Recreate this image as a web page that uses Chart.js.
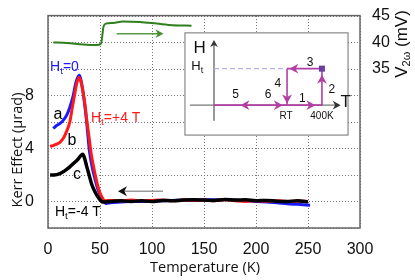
<!DOCTYPE html>
<html>
<head>
<meta charset="utf-8">
<script src="https://cdn.jsdelivr.net/npm/chart.js"></script>
<style>
  html, body { margin: 0; padding: 0; background: #fff; }
  #wrap { width: 415px; height: 280px; }
</style>
</head>
<body>
<div id="wrap"><canvas id="kerrChart"></canvas></div>
<script>
// values
var tempBlue = [5, 8, 11, 14, 18, 21, 24, 27, 30, 33, 37, 40, 43, 45, 48, 51.5, 56,
  60, 70, 80, 90, 100, 110, 120, 130, 140, 150, 160, 170, 180, 190, 200, 210, 220, 230, 240, 252]
var kerrBlue = [5.5, 5.7, 5.85, 6.05, 6.5, 7.1, 7.9, 9.0, 9.5, 8.6, 6.1, 3.7, 2.4, 1.75, 0.9, 0.3, -0.15,
  -0.1, -0.05, 0, 0, 0.02, 0.05, 0.08, 0.1, 0.1, 0.12, 0.12, 0.15, 0.1, 0.05, 0, -0.05, -0.1, -0.18, -0.22, -0.28]

var tempRed = [2, 6, 11.5, 15, 18, 21, 23, 25.5, 27.5, 30, 32, 35.5, 37.5, 39.7, 41.5, 43.5, 46, 48.3, 51, 55,
  60, 70, 80, 90, 100, 110, 120, 130, 140, 150, 160, 170, 180, 190, 200, 210, 220, 230, 240, 250]
var kerrRed = [4.15, 4.25, 4.45, 4.8, 5.3, 6.0, 6.9, 8.0, 8.85, 9.35, 8.9, 7.35, 6.0, 4.7, 3.6, 2.75, 1.8, 1.05, 0.45, 0.05,
  0.08, 0.05, 0.1, 0.05, 0.08, 0.1, 0.05, 0.1, 0.08, 0.1, 0.05, 0.12, 0.05, 0.0, 0.05, 0.02, 0.05, 0.0, 0.02, 0.0]

var tempBlack = [2, 6, 11.5, 16, 21, 25, 29, 31.5, 33.3, 35, 37, 39.5, 42, 45, 48.4, 53,
  60, 70, 80, 90, 100, 110, 120, 130, 140, 150, 160, 170, 180, 190, 200, 210, 220, 230, 240, 250]
var kerrBlack = [2.0, 2.0, 2.1, 2.3, 2.6, 2.9, 3.2, 3.45, 3.55, 3.3, 2.7, 2.0, 1.3, 0.75, 0.3, -0.05,
  0, 0.05, 0, 0.05, 0, 0.08, 0.05, 0.1, 0.12, 0.1, 0.08, 0.15, 0.1, 0.12, 0.05, 0.08, 0.02, 0.0, 0.05, -0.05]

var tempV = [5, 18, 34, 47, 51, 53.5, 56, 62.5, 72, 88.5, 104.5, 120, 138]
var volt2w = [39.95, 39.85, 39.55, 39.45, 39.75, 43.0, 43.5, 43.6, 43.9, 43.8, 43.5, 43.2, 43.1]

var kerrTicks = [0, 4, 8]
var voltTicks = [35, 40, 45]

function pts(xs, ys) {
  return xs.map(function (x, i) { return { x: x, y: ys[i] } })
}

// H_t style text: parts = [[text, isSub], ...]
function subText(c, parts, x, y, size, align) {
  var w = 0
  parts.forEach(function (p) {
    c.font = (p[1] ? size * 0.7 : size) + 'px "Liberation Sans", Arial'
    w += c.measureText(p[0]).width
  })
  var cx = align === 'center' ? x - w / 2 : x
  c.textAlign = 'left'
  c.textBaseline = 'middle'
  parts.forEach(function (p) {
    c.font = (p[1] ? size * 0.7 : size) + 'px "Liberation Sans", Arial'
    c.fillText(p[0], cx, p[1] ? y + size * 0.3 : y)
    cx += c.measureText(p[0]).width
  })
}

function head(c, x, y, dir, s, color) {
  c.save()
  c.translate(x, y)
  c.rotate({ right: 0, left: Math.PI, up: -Math.PI / 2, down: Math.PI / 2 }[dir])
  c.fillStyle = color
  c.beginPath()
  c.moveTo(0, 0)
  c.lineTo(-s, -s * 0.55)
  c.lineTo(-s * 0.7, 0)
  c.lineTo(-s, s * 0.55)
  c.closePath()
  c.fill()
  c.restore()
}

function line(c, x1, y1, x2, y2, color, w, dash) {
  c.save()
  c.strokeStyle = color
  c.lineWidth = w
  c.setLineDash(dash || [])
  c.beginPath()
  c.moveTo(x1, y1)
  c.lineTo(x2, y2)
  c.stroke()
  c.restore()
}

var extras = {
  id: 'extras',
  afterDatasetsDraw: function (chart) {
    var c = chart.ctx
    var a = chart.chartArea
    var sx = chart.scales.x, sy = chart.scales.y, sv = chart.scales.y2
    c.save()

    // dotted grid at the scales' ticks, slid in behind the curves
    c.globalCompositeOperation = 'destination-over'
    c.fillStyle = '#777'
    sx.ticks.forEach(function (t) {
      var px = Math.round(sx.getPixelForValue(t.value))
      for (var y = a.top; y < a.bottom; y += 3) c.fillRect(px, Math.round(y), 1, 1)
    })
    sy.ticks.forEach(function (t) {
      var py = Math.round(sy.getPixelForValue(t.value))
      for (var x = a.left; x < a.right; x += 3) c.fillRect(Math.round(x), py, 1, 1)
    })
    c.globalCompositeOperation = 'source-over'

    // frame
    c.strokeStyle = '#666'
    c.lineWidth = 1.5
    c.strokeRect(a.left, a.top, a.right - a.left, a.bottom - a.top)

    // curve labels
    c.fillStyle = '#1a1aff'
    subText(c, [['H', 0], ['t', 1], ['=0', 0]], sx.getPixelForValue(2), sy.getPixelForValue(10.1), 14)
    c.fillStyle = '#ff1a1a'
    subText(c, [['H', 0], ['t', 1], ['=+4 T', 0]], sx.getPixelForValue(41.3), sy.getPixelForValue(6.25), 14)
    c.fillStyle = '#000'
    subText(c, [['H', 0], ['t', 1], ['=-4 T', 0]], sx.getPixelForValue(6.7), sy.getPixelForValue(-0.8), 14)
    c.font = '16px "Liberation Sans", Arial'
    c.textAlign = 'center'
    c.fillText('a', sx.getPixelForValue(9.6), sy.getPixelForValue(6.55))
    c.fillText('b', sx.getPixelForValue(23), sy.getPixelForValue(4.55))
    c.fillText('c', sx.getPixelForValue(27.9), sy.getPixelForValue(2.0))

    // arrows along the sweeps
    var gy = sv.getPixelForValue(41.6)
    line(c, sx.getPixelForValue(66), gy, sx.getPixelForValue(108), gy, '#5a9a40', 1.5)
    head(c, sx.getPixelForValue(111), gy, 'right', 8, '#4a8a30')
    var ky = sy.getPixelForValue(0.77)
    line(c, sx.getPixelForValue(110.6), ky, sx.getPixelForValue(70), ky, '#999', 1.5)
    head(c, sx.getPixelForValue(67.3), ky, 'left', 9, '#111')

    // inset box
    var bx = sx.getPixelForValue(131.7), by = sy.getPixelForValue(12.7)
    var bw = sx.getPixelForValue(288.5) - bx, bh = sy.getPixelForValue(5.0) - by
    c.fillStyle = '#fff'
    c.fillRect(bx, by, bw, bh)
    c.strokeStyle = '#888'
    c.lineWidth = 1.2
    c.strokeRect(bx, by, bw, bh)
    function U(u) { return bx + u * bw }
    function V(v) { return by + v * bh }
    var mag = '#b23fa3'
    // axes
    line(c, U(0.178), V(0.86), U(0.178), V(0.09), '#555', 1.2)
    head(c, U(0.178), V(0.07), 'up', 7, '#333')
    line(c, U(0.03), V(0.707), U(0.93), V(0.707), '#777', 1.4)
    head(c, U(0.955), V(0.707), 'right', 8, '#333')
    // dashed Ht level
    line(c, U(0.178), V(0.35), U(0.62), V(0.35), '#b8b4e4', 1.3, [5, 3])
    // path
    line(c, U(0.178), V(0.707), U(0.84), V(0.707), mag, 1.6)
    line(c, U(0.84), V(0.707), U(0.84), V(0.35), mag, 1.6)
    line(c, U(0.84), V(0.35), U(0.626), V(0.35), mag, 1.6)
    line(c, U(0.626), V(0.35), U(0.626), V(0.707), mag, 1.6)
    head(c, U(0.34), V(0.707), 'left', 9, mag)
    head(c, U(0.6), V(0.707), 'right', 9, mag)
    head(c, U(0.8), V(0.707), 'right', 9, mag)
    head(c, U(0.84), V(0.41), 'up', 9, mag)
    head(c, U(0.64), V(0.35), 'left', 9, mag)
    head(c, U(0.626), V(0.69), 'down', 9, mag)
    c.fillStyle = '#6a3fa0'
    c.fillRect(U(0.84) - 3, V(0.35) - 3, 6, 6)
    // inset text
    c.fillStyle = '#111'
    c.textAlign = 'center'
    c.textBaseline = 'middle'
    c.font = '17px "Liberation Sans", Arial'
    c.fillText('H', U(0.09), V(0.15))
    c.fillText('T', U(0.985), V(0.68))
    subText(c, [['H', 0], ['t', 1]], U(0.075), V(0.33), 13, 'center')
    c.font = '12px "Liberation Sans", Arial'
    c.textAlign = 'center'
    c.fillText('3', U(0.767), V(0.29))
    c.fillText('4', U(0.57), V(0.5))
    c.fillText('2', U(0.9), V(0.56))
    c.fillText('5', U(0.31), V(0.6))
    c.fillText('6', U(0.51), V(0.6))
    c.fillText('1', U(0.72), V(0.64))
    c.font = '10px "Liberation Sans", Arial'
    c.fillText('RT', U(0.62), V(0.82))
    c.fillText('400K', U(0.84), V(0.82))

    // axis titles
    c.fillStyle = '#111'
    c.font = '14.5px "Open Sans", Arial'
    c.textAlign = 'center'
    c.fillText('Temperature (K)', 205, 268)
    c.save()
    c.translate(18, 150)
    c.rotate(-Math.PI / 2)
    c.fillText('Kerr Effect (\u03bcrad)', 0, 0)
    c.restore()
    c.save()
    c.translate(402, 44)
    c.rotate(-Math.PI / 2)
    c.font = '17px "Liberation Sans", Arial'
    var p1 = 'V', p2 = '2\u03c9', p3 = ' (mV)'
    var w1 = c.measureText(p1).width, w3 = c.measureText(p3).width
    c.font = '11px "Liberation Sans", Arial'
    var w2 = c.measureText(p2).width
    var x0 = -(w1 + w2 + w3) / 2
    c.textAlign = 'left'
    c.font = '17px "Liberation Sans", Arial'
    c.fillText(p1, x0, 0)
    c.font = '11px "Liberation Sans", Arial'
    c.fillText(p2, x0 + w1, 5)
    c.font = '17px "Liberation Sans", Arial'
    c.fillText(p3, x0 + w1 + w2, 0)
    c.restore()

    c.restore()
  }
}

var ctx = document.getElementById('kerrChart').getContext('2d')
var myChart = new Chart(ctx, {
  type: 'line',
  data: {
    datasets: [
      {
        label: 'Ht=-4 T',
        data: pts(tempBlack, kerrBlack),
        borderColor: '#000',
        borderWidth: 3.5,
        order: 0,
      },
      {
        label: 'Ht=+4 T',
        data: pts(tempRed, kerrRed),
        borderColor: '#ff1a1a',
        borderWidth: 3,
        order: 1,
      },
      {
        label: 'Ht=0',
        data: pts(tempBlue, kerrBlue),
        borderColor: '#1a1aff',
        borderWidth: 3,
        order: 2,
      },
      {
        label: 'V2w',
        data: pts(tempV, volt2w),
        borderColor: '#2f7f1f',
        borderWidth: 2,
        yAxisID: 'y2',
        order: 3,
      },
    ],
  },
  options: {
    responsive: true,
    maintainAspectRatio: false,
    animation: false,
    layout: { padding: { top: 9, left: 0, right: 0, bottom: 0 } },
    elements: {
      point: { radius: 0 },
      line: { cubicInterpolationMode: 'monotone', fill: false },
    },
    plugins: { legend: { display: false }, tooltip: { enabled: false } },
    scales: {
      x: {
        type: 'linear',
        min: 0,
        max: 300,
        ticks: { stepSize: 50, padding: 4, color: '#111', font: { family: 'Liberation Sans', size: 16 } },
        grid: { display: false },
        border: { display: false },
        afterFit: function (s) { s.height = 52 },
      },
      y: {
        min: -2,
        max: 14,
        ticks: {
          stepSize: 2,
          padding: 6,
          color: '#111',
          font: { family: 'Liberation Sans', size: 16 },
          callback: function (v) { return kerrTicks.indexOf(v) >= 0 ? v : '' },
        },
        grid: { display: false },
        border: { display: false },
        afterFit: function (s) { s.width = 48 },
      },
      y2: {
        position: 'right',
        min: 5,
        max: 45,
        ticks: {
          stepSize: 5,
          padding: 4,
          color: '#111',
          font: { family: 'Liberation Sans', size: 16 },
          callback: function (v) { return voltTicks.indexOf(v) >= 0 ? v : '' },
        },
        grid: { display: false },
        border: { display: false },
        afterFit: function (s) { s.width = 55 },
      },
    },
  },
  plugins: [extras],
})
</script>
</body>
</html>
